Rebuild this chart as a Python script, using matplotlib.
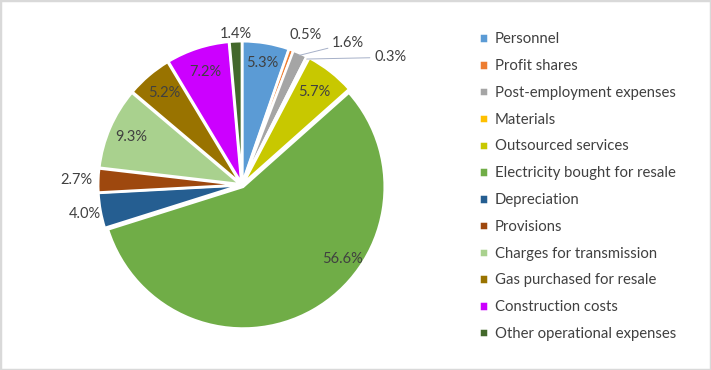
import numpy as np
import matplotlib.pyplot as plt
from matplotlib.patches import Rectangle

# Данные диаграммы
categories = ['Personnel', 'Profit shares', 'Post-employment expenses', 'Materials',
              'Outsourced services', 'Electricity bought for resale', 'Depreciation',
              'Provisions', 'Charges for transmission', 'Gas purchased for resale',
              'Construction costs', 'Other operational expenses']
shares = [5.3, 0.5, 1.6, 0.3, 5.7, 56.6, 4.0, 2.7, 9.3, 5.2, 7.2, 1.4]
labels = ['5.3%', '0.5%', '1.6%', '0.3%', '5.7%', '56.6%', '4.0%', '2.7%',
          '9.3%', '5.2%', '7.2%', '1.4%']

colors = ['#5B9BD5', '#ED7D31', '#A5A5A5', '#FFC000', '#C8C800', '#70AD47',
          '#255E91', '#9E480E', '#A9D18E', '#997300', '#CC00FF', '#43682B']

# Размещение подписей: радиус, сдвиг угла (град), линия-выноска
label_r = [0.87, 1.15, 1.25, 1.38, 0.83, 0.88, 1.13, 1.17, 0.85, 0.85, 0.84, 1.07]
label_shift = [0, -3, -13, -22, 0, 24, 0, 0, 0, 0, 0, 0]
leader = [False, False, True, True, False, False, False, False, False, False, False, False]

plt.rcParams['font.family'] = ['Lato', 'DejaVu Sans']

fig = plt.figure(figsize=(7.11, 3.70), dpi=100)
ax = fig.add_axes([72 / 711, 15 / 370, 340 / 711, 340 / 370])

wedges, _ = ax.pie(shares, colors=colors, startangle=90, counterclock=False,
                   explode=[0.015] * len(shares),
                   wedgeprops=dict(edgecolor='white', linewidth=1.8))
ax.set_xlim(-1.2, 1.2)
ax.set_ylim(-1.2, 1.2)
ax.set_aspect('equal')

total = sum(shares)
cum = np.cumsum([0] + shares[:-1])
for i, v in enumerate(shares):
    mid = 90 - 360 * (cum[i] + v / 2) / total
    ang = np.deg2rad(mid + label_shift[i])
    x, y = label_r[i] * np.cos(ang), label_r[i] * np.sin(ang)
    if leader[i]:
        m = np.deg2rad(mid)
        ax.annotate(labels[i], xy=(1.0 * np.cos(m), 1.0 * np.sin(m)), xytext=(x, y),
                    ha='center', va='center', fontsize=10.5, color='#404040',
                    arrowprops=dict(arrowstyle='-', color='#A6B0C8', lw=0.7,
                                    shrinkA=1, shrinkB=0))
    else:
        ax.text(x, y, labels[i], ha='center', va='center', fontsize=10.5, color='#404040')

fig.legend(wedges, categories, loc='upper left', bbox_to_anchor=(466 / 711, 1 - 19 / 370),
           frameon=False, fontsize=10.7, handlelength=0.6, handleheight=0.6,
           handletextpad=0.45, labelspacing=0.86, labelcolor='#404040')

fig.add_artist(Rectangle((0, 0), 1, 1, transform=fig.transFigure, fill=False,
                         edgecolor='#D9D9D9', linewidth=2.5))

fig.savefig('out.png', dpi=100)
